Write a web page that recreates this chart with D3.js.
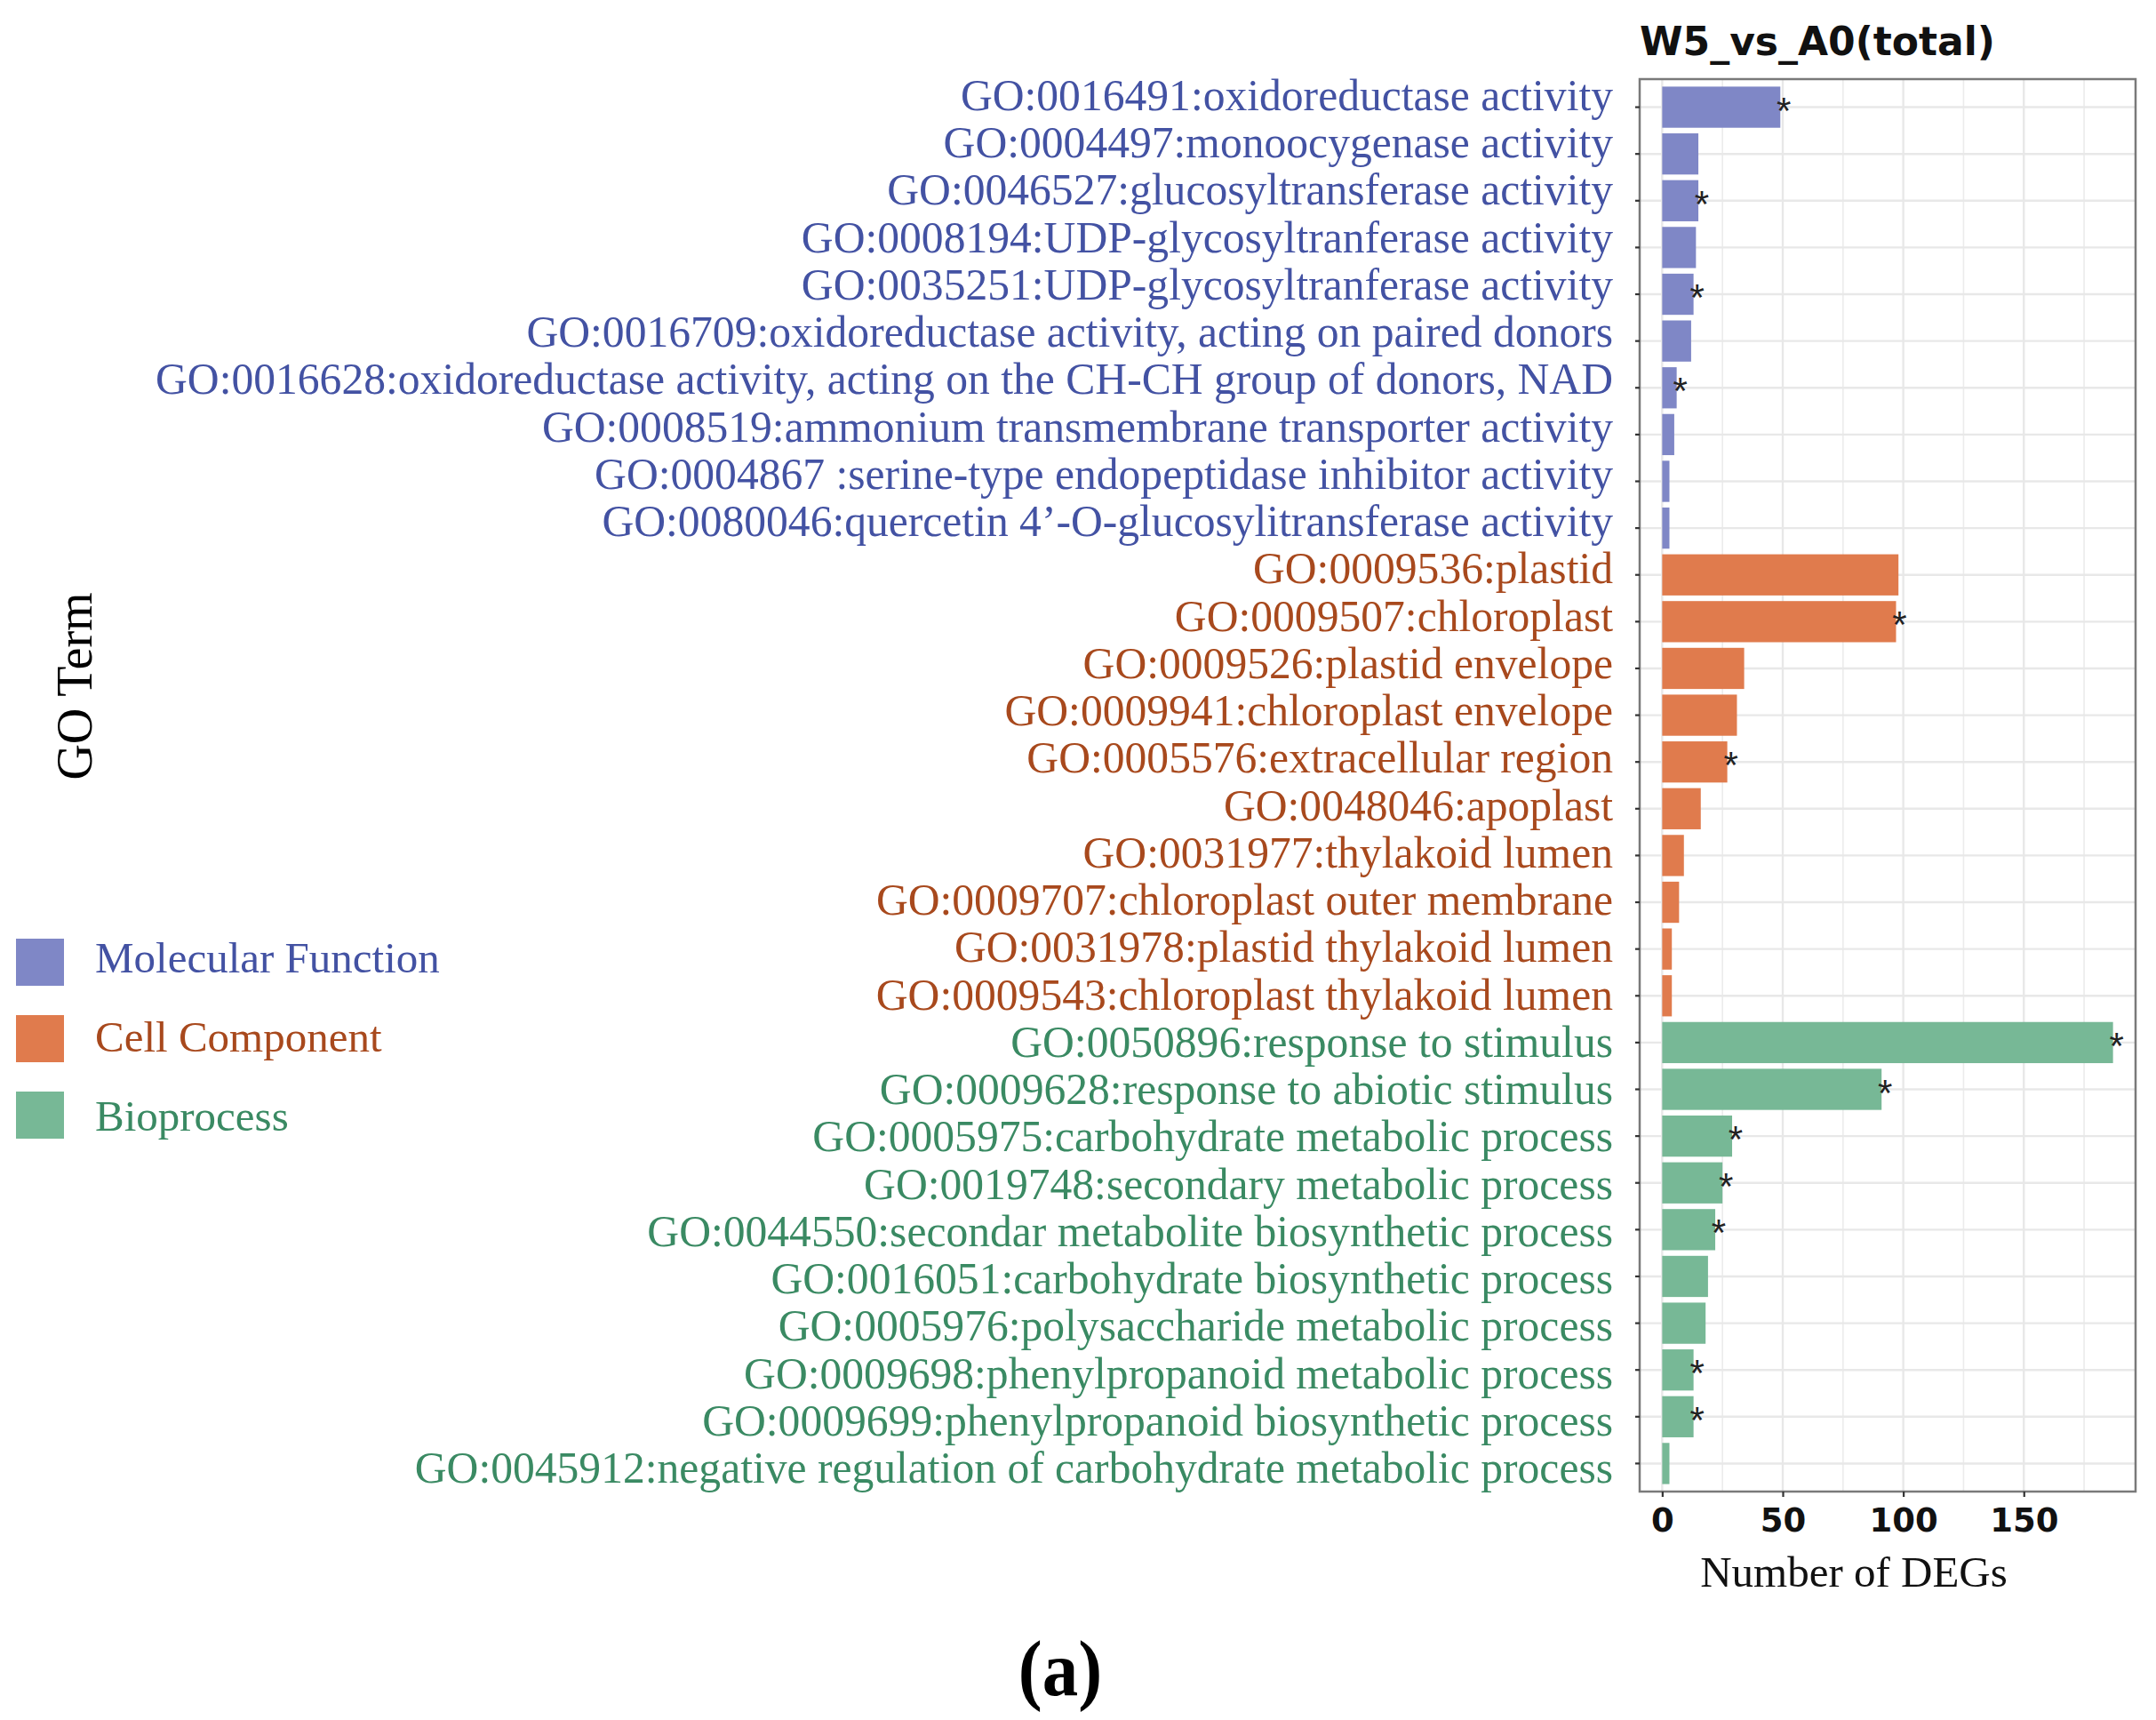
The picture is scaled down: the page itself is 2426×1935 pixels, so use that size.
<!DOCTYPE html>
<html>
<head>
<meta charset="utf-8">
<script src="https://cdn.jsdelivr.net/npm/d3@7"></script>
<style>
  html, body { margin: 0; padding: 0; background: #fff; }
  svg { display: block; }
</style>
</head>
<body>
<svg id="chart" width="2426" height="1935"></svg>
<script>
// ---------------- data ----------------
const terms = [
  "GO:0016491:oxidoreductase activity",
  "GO:0004497:monoocygenase activity",
  "GO:0046527:glucosyltransferase activity",
  "GO:0008194:UDP-glycosyltranferase activity",
  "GO:0035251:UDP-glycosyltranferase activity",
  "GO:0016709:oxidoreductase activity, acting on paired donors",
  "GO:0016628:oxidoreductase activity, acting on the CH-CH group of donors, NAD",
  "GO:0008519:ammonium transmembrane transporter activity",
  "GO:0004867 :serine-type endopeptidase inhibitor activity",
  "GO:0080046:quercetin 4\u2019-O-glucosylitransferase activity",
  "GO:0009536:plastid",
  "GO:0009507:chloroplast",
  "GO:0009526:plastid envelope",
  "GO:0009941:chloroplast envelope",
  "GO:0005576:extracellular region",
  "GO:0048046:apoplast",
  "GO:0031977:thylakoid lumen",
  "GO:0009707:chloroplast outer membrane",
  "GO:0031978:plastid thylakoid lumen",
  "GO:0009543:chloroplast thylakoid lumen",
  "GO:0050896:response to stimulus",
  "GO:0009628:response to abiotic stimulus",
  "GO:0005975:carbohydrate metabolic process",
  "GO:0019748:secondary metabolic process",
  "GO:0044550:secondar metabolite biosynthetic process",
  "GO:0016051:carbohydrate biosynthetic process",
  "GO:0005976:polysaccharide metabolic process",
  "GO:0009698:phenylpropanoid metabolic process",
  "GO:0009699:phenylpropanoid biosynthetic process",
  "GO:0045912:negative regulation of carbohydrate metabolic process"
];
const counts = [
  49, 15, 15, 14, 13, 12, 6, 5, 3, 3,
  98, 97, 34, 31, 27, 16, 9, 7, 4, 4,
  187, 91, 29, 25, 22, 19, 18, 13, 13, 3
];
const groups = [
  "MF","MF","MF","MF","MF","MF","MF","MF","MF","MF",
  "CC","CC","CC","CC","CC","CC","CC","CC","CC","CC",
  "BP","BP","BP","BP","BP","BP","BP","BP","BP","BP"
];
const significant = [
  1,0,1,0,1,0,1,0,0,0,
  0,1,0,0,1,0,0,0,0,0,
  1,1,1,1,1,0,0,1,1,0
];
const groupKeys = ["MF", "CC", "BP"];
const groupNames = ["Molecular Function", "Cell Component", "Bioprocess"];
const xTicks = [0, 50, 100, 150];
const xMinorTicks = [25, 75, 125, 175];
const chartTitle = "W5_vs_A0(total)";
const xTitle = "Number of DEGs";
const yTitle = "GO Term";
const panelTag = "(a)";

// ---------------- styles ----------------
const barColor = d3.scaleOrdinal().domain(groupKeys).range(["#7f87c6", "#e07b4d", "#77b896"]);
const textColor = d3.scaleOrdinal().domain(groupKeys).range(["#4352a3", "#a8491d", "#3a8a63"]);
const serif = "'Liberation Serif', 'Times New Roman', serif";
const sans = "'DejaVu Sans', Verdana, sans-serif";

const panel = { left: 1845, right: 2403, top: 89, bottom: 1678 };
const svg = d3.select("#chart");
svg.append("rect").attr("width", 2426).attr("height", 1935).attr("fill", "#fff");

const maxV = d3.max(counts);
const x = d3.scaleLinear().domain([-0.05 * maxV, 1.05 * maxV]).range([panel.left, panel.right]);
const y = d3.scaleBand().domain(terms).range([panel.top, panel.bottom])
  .paddingInner(0.12).paddingOuter(0.16);
const yc = t => y(t) + y.bandwidth() / 2;
// the term labels sit on their own slightly wider spacing (baselines)
const yLabel = d3.scalePoint().domain(terms).range([124, 1668]);

const rows = terms.map((t, i) => ({ term: t, value: counts[i], group: groups[i], sig: significant[i] }));

// grid
const grid = svg.append("g");
grid.selectAll("line.minor").data(xMinorTicks).join("line")
  .attr("x1", d => x(d)).attr("x2", d => x(d))
  .attr("y1", panel.top).attr("y2", panel.bottom)
  .attr("stroke", "#ececec").attr("stroke-width", 1.6);
grid.selectAll("line.major").data(xTicks).join("line")
  .attr("x1", d => x(d)).attr("x2", d => x(d))
  .attr("y1", panel.top).attr("y2", panel.bottom)
  .attr("stroke", "#e8e8e8").attr("stroke-width", 2.4);
grid.selectAll("line.h").data(terms).join("line")
  .attr("x1", panel.left).attr("x2", panel.right)
  .attr("y1", d => yc(d)).attr("y2", d => yc(d))
  .attr("stroke", "#e8e8e8").attr("stroke-width", 2.4);

// bars
svg.append("g").selectAll("rect").data(rows).join("rect")
  .attr("x", x(0))
  .attr("y", d => y(d.term))
  .attr("width", d => x(d.value) - x(0))
  .attr("height", y.bandwidth())
  .attr("fill", d => barColor(d.group));

// significance stars
svg.append("g").selectAll("text").data(rows.filter(d => d.sig)).join("text")
  .attr("x", d => x(d.value) + 4)
  .attr("y", d => yc(d.term) + 18)
  .attr("text-anchor", "middle")
  .attr("font-family", "'Liberation Sans', Arial, sans-serif")
  .attr("font-size", 42)
  .attr("fill", "#222")
  .text("*");

// panel border
svg.append("rect")
  .attr("x", panel.left).attr("y", panel.top)
  .attr("width", panel.right - panel.left).attr("height", panel.bottom - panel.top)
  .attr("fill", "none").attr("stroke", "#7a7a7a").attr("stroke-width", 2.5);

// y axis ticks
const yAxis = svg.append("g").attr("transform", `translate(${panel.left},0)`)
  .call(d3.axisLeft(y).tickSize(5).tickFormat(""));
yAxis.select(".domain").remove();
yAxis.selectAll(".tick line").attr("stroke", "#333").attr("stroke-width", 2.2);

// y labels
svg.append("g").selectAll("text").data(rows).join("text")
  .attr("x", 1815)
  .attr("y", d => yLabel(d.term))
  .attr("text-anchor", "end")
  .attr("font-family", serif)
  .attr("font-size", 49.6)
  .attr("fill", d => textColor(d.group))
  .text(d => d.term);

// x axis
const xAxis = svg.append("g").attr("transform", `translate(0,${panel.bottom})`)
  .call(d3.axisBottom(x).tickValues(xTicks).tickSize(6).tickPadding(13));
xAxis.select(".domain").remove();
xAxis.selectAll(".tick line").attr("stroke", "#333").attr("stroke-width", 2.2);
xAxis.selectAll(".tick text")
  .attr("font-family", sans)
  .attr("font-weight", "bold")
  .attr("font-size", 37)
  .attr("fill", "#111");

// titles
svg.append("text")
  .attr("x", panel.left).attr("y", 62)
  .attr("font-family", sans).attr("font-weight", "bold").attr("font-size", 44)
  .attr("fill", "#111")
  .text(chartTitle);

svg.append("text")
  .attr("x", 2086).attr("y", 1785)
  .attr("text-anchor", "middle")
  .attr("font-family", serif).attr("font-size", 49)
  .attr("fill", "#111")
  .text(xTitle);

svg.append("text")
  .attr("transform", "translate(103,772) rotate(-90)")
  .attr("text-anchor", "middle")
  .attr("font-family", serif).attr("font-size", 56)
  .attr("fill", "#000")
  .text(yTitle);

// legend
const legend = svg.append("g");
const legY = d3.scalePoint().domain(groupKeys).range([1056, 1228]);
legend.selectAll("rect").data(groupKeys).join("rect")
  .attr("x", 18).attr("y", d => legY(d))
  .attr("width", 54).attr("height", 53)
  .attr("fill", d => barColor(d));
const legTextY = d3.scalePoint().domain(groupKeys).range([1094, 1272]);
legend.selectAll("text").data(groupKeys).join("text")
  .attr("x", 107).attr("y", d => legTextY(d))
  .attr("font-family", serif).attr("font-size", 49)
  .attr("fill", d => textColor(d))
  .text((d, i) => groupNames[i]);

// panel tag
svg.append("text")
  .attr("transform", "translate(1193,1907) scale(0.92,1)")
  .attr("text-anchor", "middle")
  .attr("font-family", serif).attr("font-weight", "bold").attr("font-size", 88)
  .attr("fill", "#000")
  .text(panelTag);
</script>
</body>
</html>
